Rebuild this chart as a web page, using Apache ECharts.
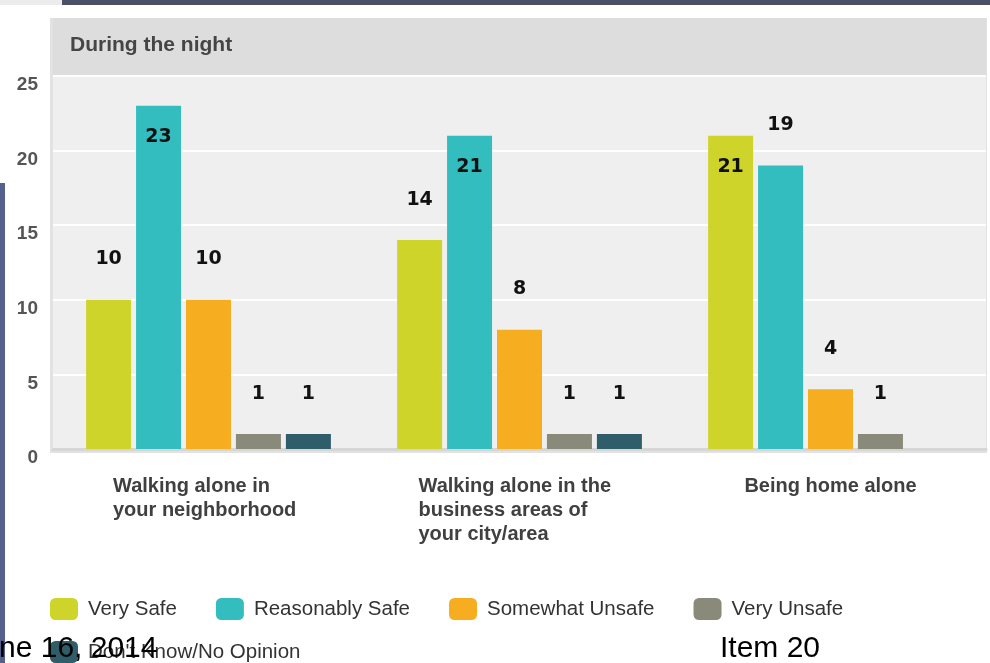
<!DOCTYPE html>
<html>
<head>
<meta charset="utf-8">
<script src="https://cdn.jsdelivr.net/npm/echarts@6/dist/echarts.min.js"></script>
<style>
  html, body { margin: 0; padding: 0; background: #fff; }
  #chart { width: 990px; height: 663px; }
</style>
</head>
<body>
<div id="chart"></div>
<script>
var categories = [
  "Walking alone in\nyour neighborhood",
  "Walking alone in the\nbusiness areas of\nyour city/area",
  "Being home alone"
];
var seriesNames = ["Very Safe", "Reasonably Safe", "Somewhat Unsafe", "Very Unsafe", "Don't Know/No Opinion"];
var verySafe = [10, 14, 21];
var reasonablySafe = [23, 21, 19];
var somewhatUnsafe = [10, 8, 4];
var veryUnsafe = [1, 1, 1];
var dontKnow = [1, 1, null];
var colors = ["#cfd42a", "#33bdbe", "#f6ad20", "#8a8a7b", "#2f5e6a"];

var yMin = 0, yMax = 25, yStep = 5;

var allValues = [verySafe, reasonablySafe, somewhatUnsafe, veryUnsafe, dontKnow];

// tall bars get their label inside, like the original
function toData(arr) {
  return arr.map(function (v) {
    if (v == null) return "-";
    var inside = v >= 20;
    return {
      value: v,
      label: {
        position: inside ? "insideTop" : "top",
        distance: inside ? 22 : 31
      }
    };
  });
}

var labelWidths = [191, 202, null];

var myChart = echarts.init(document.getElementById("chart"));
var option = {
  animation: false,
  color: colors,
  title: {
    text: "During the night",
    left: 70,
    top: 31,
    padding: 0,
    textStyle: {
      fontFamily: "Liberation Sans",
      fontSize: 21,
      lineHeight: 28,
      fontWeight: "bold",
      color: "#454545"
    }
  },
  graphic: [
    // slide edges
    { type: "rect", z: -20, shape: { x: 62, y: 0, width: 928, height: 5 }, style: { fill: "#4b5066" } },
    { type: "rect", z: -20, shape: { x: 0, y: 0, width: 62, height: 5 }, style: { fill: "#ececec" } },
    { type: "rect", z: -20, shape: { x: 0, y: 183, width: 5, height: 480 }, style: { fill: "#55618a" } },
    // chart panel
    { type: "rect", z: -10, shape: { x: 50, y: 18, width: 937, height: 435 }, style: { fill: "#e2e2e2" } },
    { type: "rect", z: -9, shape: { x: 53, y: 18, width: 933, height: 58 }, style: { fill: "#dddddd" } },
    // footer text from slide
    { type: "text", z: 100, style: { x: -1, y: 649, text: "ne 16, 2014", font: "30px 'Liberation Sans'", fill: "#000", textVerticalAlign: "middle" } },
    { type: "text", z: 100, style: { x: 720, y: 649, text: "Item 20", font: "30px 'Liberation Sans'", fill: "#000", textVerticalAlign: "middle" } }
  ],
  legend: [
    {
      data: seriesNames.slice(0, 4),
      left: 50,
      top: 598,
      padding: 0,
      itemWidth: 28,
      itemHeight: 22,
      itemGap: 39,
      itemStyle: { borderRadius: 3 },
      textStyle: { fontFamily: "Liberation Sans", fontSize: 20.5, color: "#333", padding: [0, 0, 0, 5] }
    },
    {
      data: seriesNames.slice(4),
      left: 50,
      top: 641,
      padding: 0,
      itemWidth: 28,
      itemHeight: 22,
      itemStyle: { borderRadius: 3 },
      textStyle: { fontFamily: "Liberation Sans", fontSize: 20.5, color: "#333", padding: [0, 0, 0, 5] }
    }
  ],
  grid: {
    left: 53,
    right: 4,
    top: 76,
    bottom: 214,
    show: true,
    backgroundColor: "#efefef",
    borderWidth: 0
  },
  xAxis: {
    type: "category",
    data: categories,
    axisTick: { show: false },
    axisLine: { lineStyle: { color: "#d6d6d6", width: 3 } },
    axisLabel: {
      interval: 0,
      margin: 25,
      align: "center",
      formatter: function (value, idx) {
        return value.split("\n").map(function (l) {
          return "{c" + idx + "|" + l + "}";
        }).join("\n");
      },
      rich: (function () {
        var r = {};
        labelWidths.forEach(function (w, i) {
          var s = {
            fontFamily: "Liberation Sans",
            fontSize: 20,
            fontWeight: "bold",
            color: "#404040",
            lineHeight: 24,
            align: "left"
          };
          if (w) s.width = w;
          r["c" + i] = s;
        });
        return r;
      })()
    }
  },
  yAxis: {
    type: "value",
    min: yMin,
    max: yMax,
    interval: yStep,
    axisLine: { show: false },
    axisTick: { show: false },
    splitLine: { lineStyle: { color: "#ffffff", width: 2 } },
    axisLabel: {
      margin: 15,
      verticalAlign: "top",
      lineHeight: 18,
      fontFamily: "Liberation Sans",
      fontSize: 19,
      fontWeight: "bold",
      color: "#555"
    }
  },
  series: seriesNames.map(function (name, i) {
    return {
      name: name,
      type: "bar",
      barWidth: 45,
      barGap: "11%",
      data: toData(allValues[i]),
      label: {
        show: true,
        fontFamily: "DejaVu Sans",
        fontSize: 19,
        fontWeight: "bold",
        color: "#111"
      }
    };
  })
};
myChart.setOption(option);
</script>
</body>
</html>
